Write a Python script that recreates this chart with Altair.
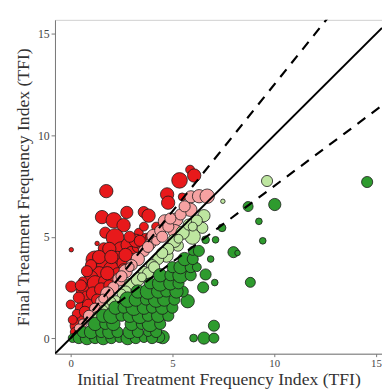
import altair as alt
import pandas as pd

# ---- data (x = initial TFI, y = final TFI, r = bubble weight) ----
red_x = [0.03, 1.30, 1.75, 1.54, 2.12, 2.60, 2.76, 3.59, 3.83, 1.70, 3.35, 2.18, 1.63, 2.50, 1.19,
         0.03, 0.00, 0.71, 0.30, 4.74, 4.79, 5.35, 5.87, 6.07, 5.48, 1.9, 2.8, 3.0, 3.3, 3.5,
         3.7, 2.3, 1.6, 2.0, 2.6, 1.4, 1.0, 1.2, 1.7, 2.2, 2.6, 3.0, 0.8, 0.5, 0.6,
         0.3, 0.9, 1.1, 1.5, 0.4, 0.2, 0.1, 1.9, 2.3, 3.2, 2.9, 3.6, 1.4, 1.8, 0.6,
         1.0, 2.7, 3.4, 0.7, 1.3, 0.5, 0.8, 2.0, 3.9, 4.2]
red_y = [4.36, 4.67, 7.25, 5.97, 5.81, 5.57, 6.20, 6.22, 6.04, 5.20, 5.20, 4.96, 4.43, 4.32, 3.86,
         2.54, 1.66, 2.33, 0.61, 7.09, 6.68, 7.78, 8.31, 8.02, 6.97, 4.4, 4.6, 4.2, 4.5, 4.6,
         4.9, 3.9, 3.6, 3.4, 3.7, 3.2, 3.0, 2.7, 2.8, 3.0, 3.4, 3.9, 2.0, 1.5, 1.0,
         1.2, 1.6, 2.2, 2.4, 2.0, 0.3, 0.9, 2.6, 3.2, 4.8, 5.0, 5.5, 4.0, 3.2, 2.8,
         3.6, 4.1, 4.8, 1.3, 1.9, 2.6, 3.3, 4.0, 5.0, 5.5]
red_r = [2, 2, 6, 6, 7, 6, 5.5, 5, 6, 5, 4, 8, 5, 8, 8,
         5, 4, 8, 6, 6, 6, 7, 4, 6, 3.5, 6, 6, 6, 5, 5,
         5, 7, 6, 7, 6, 6, 6, 7, 6, 6, 5, 5, 6, 5, 5,
         4, 6, 6, 6, 5, 4, 4, 5, 5, 6, 5, 4, 6, 6, 4,
         5, 6, 5, 5, 5, 5, 5, 6, 4, 4]

pink_x = [5.91, 6.31, 6.71, 5.88, 4.63, 5.19, 3.91, 4.07, 5.11, 5.4, 4.4, 4.8, 3.6, 3.3, 3.0,
          2.7, 2.4, 2.1, 1.8, 1.5, 1.2, 0.9, 0.6, 0.4, 2.5, 3.8, 4.2, 4.5, 2.9, 1.6,
          5.6, 4.9]
pink_y = [6.97, 7.00, 7.00, 6.33, 5.76, 5.85, 4.64, 5.04, 5.28, 6.1, 5.3, 5.5, 4.3, 3.9, 3.6,
          3.3, 2.9, 2.5, 2.2, 1.8, 1.45, 1.1, 0.72, 0.48, 3.05, 4.5, 4.8, 5.0, 3.5, 1.95,
          6.5, 5.9]
pink_r = [5.5, 6, 6.5, 6, 6, 6, 5, 6, 6, 5, 5, 5, 5, 6, 5,
          6, 6, 5, 6, 5, 5, 5, 4, 4, 5, 5, 4, 5, 4, 4,
          5, 5]

lgreen_x = [9.65, 6.55, 6.47, 5.99, 5.27, 4.71, 3.59, 2.95, 2.23, 7.48, 5.5, 5.1, 4.8, 4.3, 4.0,
            3.8, 3.3, 2.7, 2.5, 1.9, 1.6, 4.5, 5.8, 6.2, 3.5, 4.1, 5.3, 6.0, 1.3, 2.0]
lgreen_y = [7.75, 6.04, 5.44, 5.01, 4.56, 4.07, 3.27, 2.62, 1.82, 6.75, 5.2, 4.8, 4.4, 3.9, 3.6,
            3.2, 2.9, 2.3, 2.2, 1.6, 1.4, 4.2, 5.6, 5.8, 3.0, 3.5, 4.9, 5.5, 1.1, 1.8]
lgreen_r = [5, 5.5, 5, 7, 5, 6, 5, 6, 5, 2, 6, 6, 5, 5, 5,
            5, 6, 5, 4, 5, 4, 5, 5, 5, 4, 5, 4, 4, 4, 4]

green_x = [14.57, 10.03, 8.72, 7.44, 9.25, 9.44, 8.0, 8.2, 8.83, 7.04, 6.55, 7.04, 6.04, 4.52, 4.35,
           7.12, 7.08, 6.63, 6.51, 6.88, 6.63, 5.75, 5.51, 6.0,
           0.1, 0.4, 0.8, 1.2, 1.6, 2.0, 2.4, 2.8, 3.2, 3.6, 4.0,
           0.6, 1.0, 1.5, 1.9, 2.3, 2.9, 3.3, 3.8, 4.2,
           1.2, 1.7, 2.1, 3.0, 3.5, 3.9, 4.4,
           1.6, 2.0, 2.5, 2.9, 3.4, 3.8, 4.3, 4.8,
           2.2, 2.6, 3.1, 3.6, 4.0, 4.5, 5.0,
           2.8, 3.2, 3.7, 4.2, 4.6, 5.1,
           3.3, 3.8, 4.3, 4.7, 5.2,
           3.9, 4.4, 4.9, 5.3,
           4.4, 4.9, 5.4, 5.9,
           5.0, 5.4, 5.9, 6.2,
           5.6, 6.0, 6.0, 6.3]
green_y = [7.70, 6.59, 6.49, 5.44, 5.76, 4.80, 4.24, 4.20, 2.75, 0.61, 0.00, 0.00, 0.00, 0.05, 0.05,
           4.85, 2.74, 3.14, 2.50, 3.90, 4.85, 1.82, 2.30, 3.60,
           0.0, 0.0, 0.0, 0.0, 0.0, 0.0, 0.0, 0.0, 0.0, 0.0, 0.0,
           0.3, 0.3, 0.3, 0.3, 0.3, 0.3, 0.3, 0.3, 0.3,
           0.7, 0.7, 0.7, 0.7, 0.7, 0.7, 0.7,
           1.1, 1.1, 1.1, 1.1, 1.1, 1.1, 1.1, 1.1,
           1.5, 1.5, 1.5, 1.5, 1.5, 1.5, 1.5,
           1.9, 1.9, 1.9, 1.9, 1.9, 1.9,
           2.3, 2.3, 2.3, 2.3, 2.3,
           2.7, 2.7, 2.7, 2.7,
           3.1, 3.1, 3.1, 3.1,
           3.5, 3.5, 3.5, 3.5,
           3.9, 3.9, 4.3, 4.3]
green_r = [5, 5.5, 4.5, 3.5, 3, 3, 5, 2.5, 4.5, 5, 5.5, 4.5, 3.5, 6, 5,
           3, 3, 5, 5, 3, 3.5, 6, 5, 5,
           4, 5, 6, 5, 6, 5, 4, 6, 5, 4, 5,
           5, 6, 5, 6, 5, 6, 5, 4, 5,
           6, 5, 6, 6, 5, 7, 5,
           6, 7, 5, 6, 7, 5, 6, 5,
           6, 5, 7, 6, 5, 6, 5,
           7, 6, 5, 7, 6, 5,
           6, 7, 6, 5, 6,
           5, 7, 6, 5,
           6, 5, 7, 5,
           5, 6, 5, 4,
           6, 5, 4, 5]

groups = [("red", red_x, red_y, red_r), ("pink", pink_x, pink_y, pink_r),
          ("lightgreen", lgreen_x, lgreen_y, lgreen_r), ("green", green_x, green_y, green_r)]
rows = []
for g, xs, ys, rs in groups:
    for x, y, r in zip(xs, ys, rs):
        rows.append({"x": x, "y": y, "w": r * r, "g": g})
pts = pd.DataFrame(rows)

# reference lines: slope and the x-range over which each is drawn
line_slope = [1.0, 1.25, 0.75]
line_x0 = [-0.77, 0.0, 2.3]
line_x1 = [15.3, 15.3, 15.3]
line_rows = []
for s, a, b in zip(line_slope, line_x0, line_x1):
    for x in (a, b):
        line_rows.append({"x": x, "y": s * x, "s": str(s)})
lines = pd.DataFrame(line_rows)

XD = [-0.77, 15.3]
YD = [-0.77, 15.7]
font = "Liberation Serif"

xaxis = alt.Axis(values=[0, 5, 10, 15], grid=False, domainColor="#777", tickColor="#777",
                 tickSize=3, labelFont=font, labelFontSize=11, labelColor="#444",
                 labelPadding=1, title="Initial Treatment Frequency Index (TFI)",
                 titleFont=font, titleFontSize=18, titleFontWeight="normal",
                 titleColor="#333", titleBaseline="alphabetic", titleY=31)
yaxis = alt.Axis(values=[0, 5, 10, 15], grid=False, domainColor="#777", tickColor="#777",
                 tickSize=4, labelFont=font, labelFontSize=12, labelColor="#444",
                 labelPadding=2, title="Final Treatment Frequency Index (TFI)",
                 titleFont=font, titleFontSize=18, titleFontWeight="normal",
                 titleColor="#333", titlePadding=5)

xs = alt.Scale(domain=XD, nice=False, zero=False)
ys = alt.Scale(domain=YD, nice=False, zero=False)

points = alt.Chart(pts).mark_circle(opacity=1, stroke="#1a1a1a", strokeWidth=0.8, clip=True).encode(
    x=alt.X("x:Q", scale=xs, axis=xaxis),
    y=alt.Y("y:Q", scale=ys, axis=yaxis),
    size=alt.Size("w:Q", scale=alt.Scale(domain=[0, 64], range=[0, 330]), legend=None),
    color=alt.Color("g:N", scale=alt.Scale(domain=["red", "pink", "lightgreen", "green"],
                                           range=["#E8191B", "#F6A2A2", "#BEE6A0", "#2E9B2E"]),
                    legend=None),
)

solid = alt.Chart(lines).transform_filter(alt.datum.s == "1.0").mark_line(
    color="black", strokeWidth=2, clip=True).encode(x=alt.X("x:Q", scale=xs), y=alt.Y("y:Q", scale=ys))
dashed = alt.Chart(lines).transform_filter(alt.datum.s != "1.0").mark_line(
    color="black", strokeWidth=2.2, strokeDash=[10, 8], clip=True).encode(
    x=alt.X("x:Q", scale=xs), y=alt.Y("y:Q", scale=ys), detail="s:N")

chart = alt.layer(points, solid, dashed).properties(
    width=334, height=341,
    autosize=alt.AutoSizeParams(type="none"),
    padding={"left": 48, "top": 8, "right": 0, "bottom": 35},
).configure_view(stroke="#d0d0d0", strokeWidth=1)

chart.save("out.html", embed_options={"renderer": "svg", "actions": False})
